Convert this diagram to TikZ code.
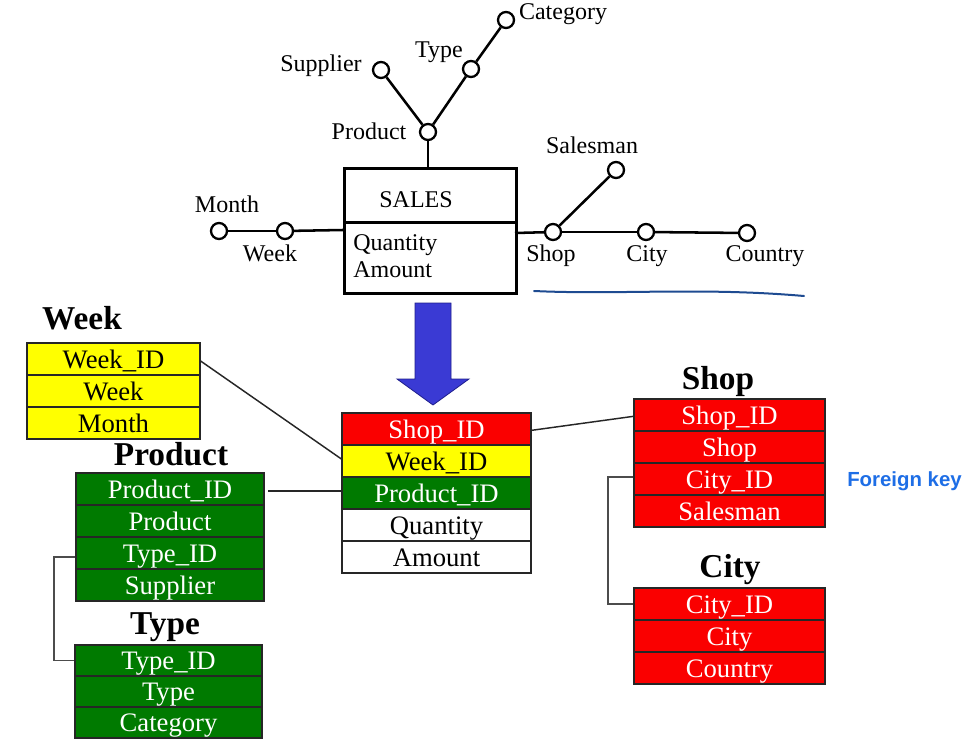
\documentclass[tikz,border=0pt]{standalone}
\usepackage{fontspec}
\setmainfont{Liberation Serif}
\newfontfamily\fksans{Liberation Sans}
\definecolor{tred}{RGB}{250,0,0}
\definecolor{tyel}{RGB}{255,255,0}
\definecolor{tgrn}{RGB}{0,122,0}
\definecolor{arrowblue}{RGB}{58,58,212}
\definecolor{arrowedge}{RGB}{30,30,140}
\definecolor{fkblue}{RGB}{30,110,230}
\definecolor{penblue}{RGB}{30,75,145}
\begin{document}
\begin{tikzpicture}[x=0.75pt,y=-0.75pt,
  dimlabel/.style={font=\fontsize{18}{20}\selectfont, inner sep=0pt, anchor=base},
  dot/.style={circle, draw=black, line width=1.7pt, fill=white, minimum size=12pt, inner sep=0pt},
  thick line/.style={line width=1.9pt, black},
  tabtitle/.style={font=\fontsize{25}{28}\selectfont\bfseries, inner sep=0pt, anchor=base},
  rowbase/.style={draw=black!85, line width=0.9pt, inner sep=0pt, text height=16.5pt, text depth=3pt,
                  font=\fontsize{20}{22}\selectfont},
  redrow/.style={rowbase, fill=tred, text=white},
  yelrow/.style={rowbase, fill=tyel, text=black},
  grnrow/.style={rowbase, fill=tgrn, text=white},
  whtrow/.style={rowbase, fill=white, text=black},
  link/.style={line width=1.1pt, black!85},
  elbow/.style={line width=0.9pt, black!70}
]
\useasboundingbox (0,0) rectangle (965,742);

% ---------- top star schema ----------
\node[draw=black, line width=1.9pt, minimum width=129pt, minimum height=40.5pt, inner sep=0pt,
      anchor=north west] (salestop) at (343,167) {};
\node[dimlabel] (salesname) at (416,208) {SALES};
\node[draw=black, line width=1.9pt, minimum width=129pt, minimum height=53.25pt, inner sep=0pt,
      anchor=north west] (salesbot) at (343,221) {};
\node[dimlabel, anchor=base west] (salesq) at (353,250) {Quantity};
\node[dimlabel, anchor=base west] (salesa) at (353,277) {Amount};

\node[dot] (cCategory) at (506,20) {};
\node[dot] (cType) at (471,69) {};
\node[dot] (cSupplier) at (381,70) {};
\node[dot] (cProduct) at (428,132) {};
\node[dot] (cMonth) at (219,231) {};
\node[dot] (cWeek) at (285,231) {};
\node[dot] (cShop) at (553,232) {};
\node[dot] (cCity) at (646,232) {};
\node[dot] (cCountry) at (747,233) {};
\node[dot] (cSalesman) at (616,170) {};

\coordinate (stopN) at (428,167);
\coordinate (sboxW) at (343,230);
\coordinate (sboxE) at (515,233);

\draw[thick line] (cProduct) -- (stopN);
\draw[thick line] (cProduct) -- (cSupplier);
\draw[thick line] (cProduct) -- (cType);
\draw[thick line] (cType) -- (cCategory);
\draw[thick line] (sboxW) -- (cWeek);
\draw[thick line] (cWeek) -- (cMonth);
\draw[thick line] (sboxE) -- (cShop);
\draw[thick line] (cShop) -- (cCity);
\draw[thick line] (cCity) -- (cCountry);
\draw[thick line] (cShop) -- (cSalesman);

\node[dimlabel] (lCategory) at (563,20) {Category};
\node[dimlabel] (lType) at (439,58) {Type};
\node[dimlabel] (lSupplier) at (321,72) {Supplier};
\node[dimlabel] (lProduct) at (369,140) {Product};
\node[dimlabel] (lMonth) at (227,213) {Month};
\node[dimlabel] (lWeek) at (270,261) {Week};
\node[dimlabel] (lSalesman) at (592,154) {Salesman};
\node[dimlabel] (lShop) at (551,261) {Shop};
\node[dimlabel] (lCity) at (647,261) {City};
\node[dimlabel] (lCountry) at (765,261) {Country};

% hand-drawn underline
\draw[penblue, line width=1.5pt, line cap=round] (534,291) .. controls (620,295) and (700,287) .. (804,296);

% ---------- big arrow ----------
\draw[fill=arrowblue, draw=arrowedge, line width=0.6pt, line join=miter]
  (415,303) -- (451,303) -- (451,379) -- (469,379) -- (433,405) -- (397,379) -- (415,379) -- cycle;

% ---------- Week table ----------
\node[tabtitle] (tWeek) at (82,329) {Week};
\node[yelrow, minimum width=129.75pt, minimum height=24pt] (wk1) at (113.5,359) {Week\_ID};
\node[yelrow, minimum width=129.75pt, minimum height=24pt] (wk2) at (113.5,391) {Week};
\node[yelrow, minimum width=129.75pt, minimum height=24pt] (wk3) at (113.5,423) {Month};

% ---------- Product table ----------
\node[tabtitle] (tProduct) at (171,465) {Product};
\node[grnrow, minimum width=141pt, minimum height=24pt] (pr1) at (170,489) {Product\_ID};
\node[grnrow, minimum width=141pt, minimum height=24pt] (pr2) at (170,521) {Product};
\node[grnrow, minimum width=141pt, minimum height=24pt] (pr3) at (170,553) {Type\_ID};
\node[grnrow, minimum width=141pt, minimum height=24pt] (pr4) at (170,585) {Supplier};

% ---------- Type table ----------
\node[tabtitle] (tType) at (165,634) {Type};
\node[grnrow, minimum width=140.25pt, minimum height=23.25pt] (ty1) at (168.5,660.5) {Type\_ID};
\node[grnrow, minimum width=140.25pt, minimum height=23.25pt] (ty2) at (168.5,691.5) {Type};
\node[grnrow, minimum width=140.25pt, minimum height=23.25pt] (ty3) at (168.5,722.5) {Category};

% ---------- Fact table ----------
\node[redrow, minimum width=141.75pt, minimum height=24pt] (f1) at (436.5,429) {Shop\_ID};
\node[yelrow, minimum width=141.75pt, minimum height=24pt] (f2) at (436.5,461) {Week\_ID};
\node[grnrow, minimum width=141.75pt, minimum height=24pt] (f3) at (436.5,493) {Product\_ID};
\node[whtrow, minimum width=141.75pt, minimum height=24pt] (f4) at (436.5,525) {Quantity};
\node[whtrow, minimum width=141.75pt, minimum height=24pt] (f5) at (436.5,557) {Amount};

% ---------- Shop table ----------
\node[tabtitle] (tShop) at (718,389) {Shop};
\node[redrow, minimum width=143.25pt, minimum height=24pt] (sh1) at (729.5,415) {Shop\_ID};
\node[redrow, minimum width=143.25pt, minimum height=24pt] (sh2) at (729.5,447) {Shop};
\node[redrow, minimum width=143.25pt, minimum height=24pt] (sh3) at (729.5,479) {City\_ID};
\node[redrow, minimum width=143.25pt, minimum height=24pt] (sh4) at (729.5,511) {Salesman};

% ---------- City table ----------
\node[tabtitle] (tCity) at (730,577) {City};
\node[redrow, minimum width=143.25pt, minimum height=24pt] (ci1) at (729.5,604) {City\_ID};
\node[redrow, minimum width=143.25pt, minimum height=24pt] (ci2) at (729.5,636) {City};
\node[redrow, minimum width=143.25pt, minimum height=24pt] (ci3) at (729.5,668) {Country};

\node[font=\fksans\bfseries\fontsize{15.3}{17}\selectfont, text=fkblue, anchor=west, inner sep=0pt] (fk) at (847,481) {Foreign key};

% ---------- links ----------
\draw[link] ([yshift=-1.5pt]wk1.east) -- ([yshift=1.5pt]f2.west);
\coordinate (prgap) at (268,491);
\draw[link] (prgap) -- (f3.west |- prgap);
\draw[link] ([yshift=-1pt]f1.east) -- ([yshift=-1pt]sh1.west);
\coordinate (pelbow) at (54,557);
\draw[elbow] (pr3.west |- pelbow) -- (pelbow) -- (pelbow |- ty1.west) -- (ty1.west);
\coordinate (selbow) at (608,477);
\draw[elbow] (sh3.west |- selbow) -- (selbow) -- (selbow |- ci1.west) -- (ci1.west);
\end{tikzpicture}
\end{document}
